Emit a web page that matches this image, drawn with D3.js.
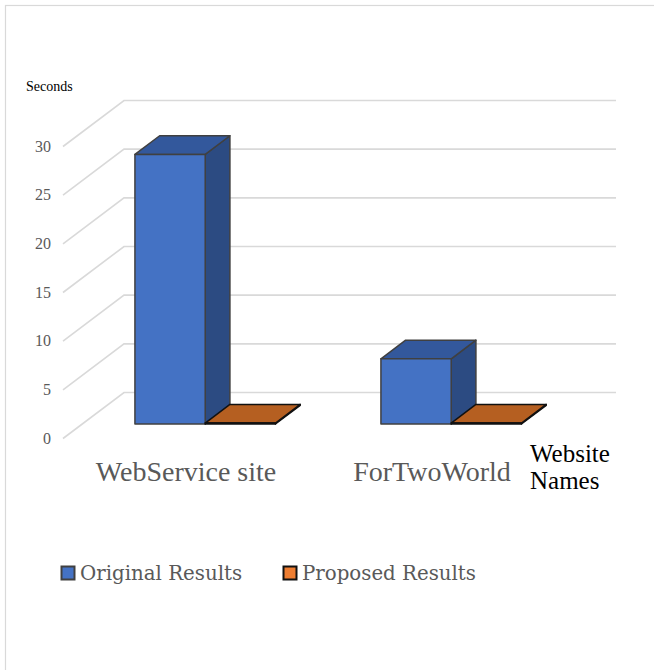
<!DOCTYPE html>
<html>
<head>
<meta charset="utf-8">
<script src="https://cdn.jsdelivr.net/npm/d3@7"></script>
<style>
  html, body { margin: 0; padding: 0; background: #fff; }
  svg { display: block; }
</style>
</head>
<body>
<svg id="chart" width="654" height="670"></svg>
<script>
// Page load time per website, seconds
const categories = ["WebService site", "ForTwoWorld"];
const seriesNames = ["Original Results", "Proposed Results"];
const originalResults = [27.7, 6.7];
const proposedResults = [0.1, 0.1];
const yTicks = [0, 5, 10, 15, 20, 25, 30];

const seriesValues = [originalResults, proposedResults];
const serif = "'Liberation Serif', 'Times New Roman', serif";

const svg = d3.select("#chart");

// Oblique 3D frame: front floor edge and the depth offset of the back wall
const x0 = 63, floorY = 438.5, plotW = 492;
const depthX = 61, depthY = 46;
const barFront = 0.315, barBack = 0.72;   // bar depth as fraction of floor depth

const y = d3.scaleLinear().domain([0, 30]).range([floorY, floorY - 292]);
const xBand = d3.scaleBand().domain(categories).range([x0, x0 + plotW]).paddingInner(0).paddingOuter(0);
const barW = xBand.bandwidth() / 3.5;
const xSeries = d3.scaleBand().domain(seriesNames).range([0, 2 * barW]);

const proj = (px, py, d) => [px + d * depthX, py - d * depthY];

// outer frame
svg.append("rect")
  .attr("x", 5.5).attr("y", 5.5).attr("width", 760).attr("height", 760)
  .attr("fill", "none").attr("stroke", "#d9d9d9").attr("stroke-width", 1.2);

// gridlines: side wall diagonal + back wall horizontal
const grid = svg.append("g").attr("fill", "none").attr("stroke", "#d9d9d9").attr("stroke-width", 1.6);
yTicks.forEach(v => {
  const a = proj(x0, y(v), 0), b = proj(x0, y(v), 1), c = proj(x0 + plotW, y(v), 1);
  grid.append("path").attr("d", `M${a}L${b}L${c}`);
});

// y tick labels
svg.append("g").selectAll("text").data(yTicks).join("text")
  .attr("x", 51).attr("y", d => y(d) + 5)
  .attr("text-anchor", "end")
  .attr("font-family", serif)
  .attr("font-size", 16).attr("fill", "#595959")
  .text(d => d);

svg.append("text").attr("x", 26).attr("y", 91)
  .attr("font-family", serif).attr("font-size", 14).attr("fill", "#000")
  .text("Seconds");

// bars
const styles = [
  { front: "#4472c4", side: "#2c4b82", top: "#33589c", stroke: "#404040" },
  { front: "#c0651f", side: "#8f4a16", top: "#b55f21", stroke: "#111" }
];
const bars = svg.append("g");
categories.forEach((cat, ci) => {
  seriesNames.forEach((s, si) => {
    const v = seriesValues[si][ci];
    const st = styles[si];
    const xl = xBand(cat) + (xBand.bandwidth() - 2 * barW) / 2 + xSeries(s);
    const xr = xl + barW;
    const yb = y(0), yt = y(v);
    const g = bars.append("g").attr("stroke", st.stroke).attr("stroke-width", 1.5).attr("stroke-linejoin", "round");
    const poly = pts => "M" + pts.map(p => p.join(",")).join("L") + "Z";
    // right side face
    g.append("path").attr("fill", st.side).attr("d", poly([
      proj(xr, yt, barFront), proj(xr, yt, barBack), proj(xr, yb, barBack), proj(xr, yb, barFront)
    ]));
    // top face
    g.append("path").attr("fill", st.top).attr("d", poly([
      proj(xl, yt, barFront), proj(xl, yt, barBack), proj(xr, yt, barBack), proj(xr, yt, barFront)
    ]));
    // front face
    g.append("path").attr("fill", st.front).attr("d", poly([
      proj(xl, yt, barFront), proj(xr, yt, barFront), proj(xr, yb, barFront), proj(xl, yb, barFront)
    ]));
  });
});

// category labels
svg.append("g").selectAll("text").data(categories).join("text")
  .attr("x", d => xBand(d) + xBand.bandwidth() / 2)
  .attr("y", 481)
  .attr("text-anchor", "middle")
  .attr("font-family", serif).attr("font-size", 28).attr("fill", "#595959")
  .text(d => d);

// x axis title
const xt = svg.append("text").attr("font-family", serif).attr("font-size", 25).attr("fill", "#000");
xt.append("tspan").attr("x", 530).attr("y", 462).text("Website");
xt.append("tspan").attr("x", 530).attr("y", 489).text("Names");

// legend
const legendColors = ["#4472c4", "#ed7d31"];
const legendStrokes = ["#404040", "#111"];
const legendX = [61, 283];
const lg = svg.append("g");
seriesNames.forEach((s, i) => {
  lg.append("rect").attr("x", legendX[i] + 0.5).attr("y", 566.5).attr("width", 13).attr("height", 13)
    .attr("fill", legendColors[i]).attr("stroke", legendStrokes[i]).attr("stroke-width", 2);
  lg.append("text").attr("x", legendX[i] + 19).attr("y", 579.5)
    .attr("font-family", "DejaVu Serif").attr("font-size", 19.8).attr("fill", "#595959")
    .text(s);
});
</script>
</body>
</html>
